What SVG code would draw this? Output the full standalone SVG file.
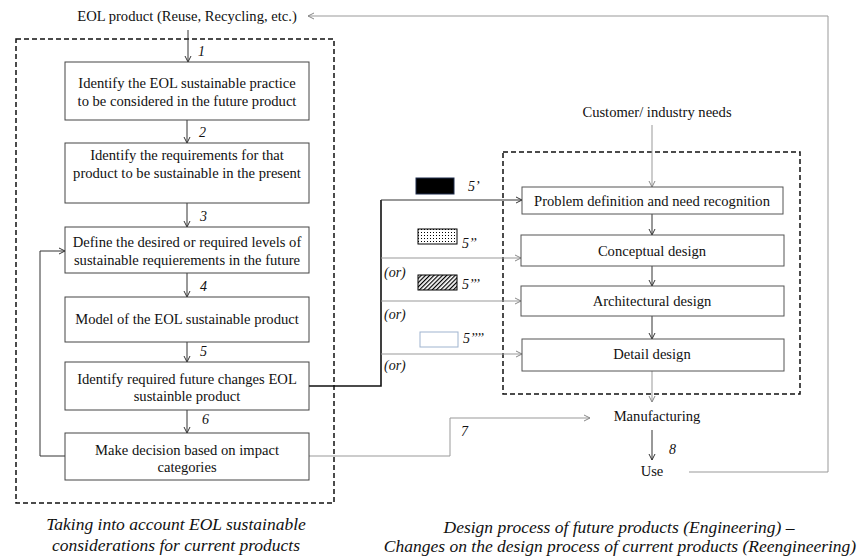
<svg xmlns="http://www.w3.org/2000/svg" width="860" height="557" viewBox="0 0 860 557">
<style>
text{font-family:"Liberation Serif","Times New Roman",serif;fill:#111;}
.t{font-size:14.6px;text-anchor:middle;}
.i{font-size:14px;font-style:italic;}
.cap{font-size:17.5px;font-style:italic;text-anchor:middle;}
.box{fill:#fff;stroke:#444;stroke-width:1;}
.rbox{fill:#fff;stroke:#555;stroke-width:1;}
.dash{fill:none;stroke:#111;stroke-width:1.5;stroke-dasharray:5,3;}
.ln{fill:none;stroke:#333;stroke-width:1;}
.gl{fill:none;stroke:#999;stroke-width:1;}
</style>
<defs>
<marker id="ah" markerWidth="8" markerHeight="8" refX="7" refY="4" orient="auto" markerUnits="userSpaceOnUse">
<polyline points="1,1 7,4 1,7" fill="none" stroke="#333" stroke-width="1"/>
</marker>
<marker id="ahg" markerWidth="8" markerHeight="8" refX="7" refY="4" orient="auto" markerUnits="userSpaceOnUse">
<polyline points="1,1 7,4 1,7" fill="none" stroke="#888" stroke-width="1"/>
</marker>
<pattern id="dots" width="3" height="3" patternUnits="userSpaceOnUse">
<rect width="3" height="3" fill="#fff"/>
<rect x="1" y="1" width="1" height="1" fill="#000"/>
</pattern>
<pattern id="hatch" width="3" height="3" patternUnits="userSpaceOnUse" patternTransform="rotate(45)">
<rect width="3" height="3" fill="#fff"/>
<rect width="1.2" height="3" fill="#000"/>
</pattern>
</defs>

<!-- containers -->
<rect class="dash" x="16" y="39" width="318" height="464"/>
<rect class="dash" x="503" y="152" width="297" height="242"/>

<!-- connectors -->
<g id="connectors">
<line class="ln" x1="188" y1="30" x2="188" y2="62" marker-end="url(#ah)"/>
<line class="ln" x1="187" y1="120" x2="187" y2="143" marker-end="url(#ah)"/>
<line class="ln" x1="187" y1="203" x2="187" y2="227" marker-end="url(#ah)"/>
<line class="ln" x1="187" y1="273" x2="187" y2="297" marker-end="url(#ah)"/>
<line class="ln" x1="187" y1="342" x2="187" y2="362" marker-end="url(#ah)"/>
<line class="ln" x1="187" y1="410" x2="187" y2="433" marker-end="url(#ah)"/>
<polyline class="ln" points="65,456 40,456 40,251 65,251" marker-end="url(#ah)"/>
<polyline fill="none" stroke="#111" stroke-width="1.6" points="309,386 381,386 381,200"/>
<line class="ln" x1="381" y1="200" x2="522" y2="200" marker-end="url(#ah)"/>
<line class="gl" x1="381" y1="258" x2="521" y2="258" marker-end="url(#ahg)"/>
<line class="gl" x1="381" y1="301" x2="521" y2="301" marker-end="url(#ahg)"/>
<line class="gl" x1="381" y1="354" x2="522" y2="354" marker-end="url(#ahg)"/>
<polyline class="gl" points="309,456 450,456 450,418 590,418" marker-end="url(#ahg)"/>
<line class="gl" x1="652" y1="125" x2="652" y2="187" marker-end="url(#ahg)"/>
<line class="ln" x1="652" y1="214" x2="652" y2="235" marker-end="url(#ah)"/>
<line class="ln" x1="652" y1="266" x2="652" y2="286" marker-end="url(#ah)"/>
<line class="ln" x1="652" y1="316" x2="652" y2="339" marker-end="url(#ah)"/>
<line class="gl" x1="652" y1="371" x2="652" y2="402" marker-end="url(#ahg)"/>
<line class="ln" x1="652" y1="430" x2="652" y2="460" marker-end="url(#ah)"/>
<polyline class="gl" points="689,472 828,472 828,16 308,16" marker-end="url(#ahg)"/>
<text class="i" x="198" y="56">1</text>
<text class="i" x="199" y="137">2</text>
<text class="i" x="200" y="221">3</text>
<text class="i" x="200" y="291">4</text>
<text class="i" x="200" y="356">5</text>
<text class="i" x="202" y="424">6</text>
<text class="i" x="461" y="436">7</text>
<text class="i" x="669" y="454">8</text>
<text class="i" x="384" y="277">(or)</text>
<text class="i" x="384" y="319">(or)</text>
<text class="i" x="384" y="370">(or)</text>
</g>

<!-- legend swatches -->
<g id="legend">
<rect x="416" y="178" width="38" height="16" fill="#000" stroke="#1f2d4d" stroke-width="1"/>
<text class="i" x="468" y="191">5’</text>
<rect x="418" y="229" width="39" height="15" fill="url(#dots)" stroke="#000" stroke-width="1"/>
<text class="i" x="462" y="248">5’’</text>
<rect x="418" y="275" width="39" height="15" fill="url(#hatch)" stroke="#000" stroke-width="1"/>
<text class="i" x="462" y="289">5’’’</text>
<rect x="420" y="332" width="38" height="15" fill="#fff" stroke="#9fb4cf" stroke-width="1"/>
<text class="i" x="463" y="343">5’’’’</text>
</g>

<!-- left nodes -->
<g id="eol-product"><text class="t" x="187" y="21">EOL product (Reuse, Recycling, etc.)</text></g>
<g id="n1"><rect class="box" x="65" y="62" width="244" height="58"/>
<text class="t" x="187" y="88">Identify the EOL sustainable practice</text>
<text class="t" x="187" y="106">to be considered in the future product</text></g>
<g id="n2"><rect class="box" x="65" y="143" width="244" height="60"/>
<text class="t" x="187" y="160">Identify the requirements for that</text>
<text class="t" x="187" y="178">product to be sustainable  in the present</text></g>
<g id="n3"><rect class="box" x="65" y="227" width="244" height="46"/>
<text class="t" x="187" y="247">Define the desired or required levels of</text>
<text class="t" x="187" y="265">sustainable requierements in the future</text></g>
<g id="n4"><rect class="box" x="65" y="297" width="244" height="45"/>
<text class="t" x="187" y="324">Model of the EOL sustainable product</text></g>
<g id="n5"><rect class="box" x="65" y="362" width="244" height="48"/>
<text class="t" x="187" y="384">Identify required future changes  EOL</text>
<text class="t" x="187" y="401">sustainble product</text></g>
<g id="n6"><rect class="box" x="65" y="433" width="244" height="47"/>
<text class="t" x="187" y="455">Make decision based on impact</text>
<text class="t" x="187" y="472">categories</text></g>

<!-- right nodes -->
<g id="customer"><text class="t" x="657" y="117">Customer/ industry needs</text></g>
<g id="r1"><rect class="rbox" x="522" y="187" width="261" height="27"/>
<text class="t" x="652" y="206">Problem definition and need recognition</text></g>
<g id="r2"><rect class="rbox" x="521" y="235" width="263" height="31"/>
<text class="t" x="652" y="256">Conceptual design</text></g>
<g id="r3"><rect class="rbox" x="521" y="286" width="263" height="30"/>
<text class="t" x="652" y="306">Architectural design</text></g>
<g id="r4"><rect class="rbox" x="522" y="339" width="262" height="32"/>
<text class="t" x="652" y="359">Detail design</text></g>
<g id="manufacturing"><text class="t" x="657" y="421">Manufacturing</text></g>
<g id="use"><text class="t" x="652" y="476">Use</text></g>

<!-- captions -->
<g id="captions">
<text class="cap" x="176" y="530">Taking into account  EOL sustainable</text>
<text class="cap" x="176" y="551">considerations  for current products</text>
<text class="cap" x="619" y="533">Design process of future products  (Engineering) –</text>
<text class="cap" x="620" y="552">Changes on the design process of current products (Reengineering)</text>
</g>
</svg>
